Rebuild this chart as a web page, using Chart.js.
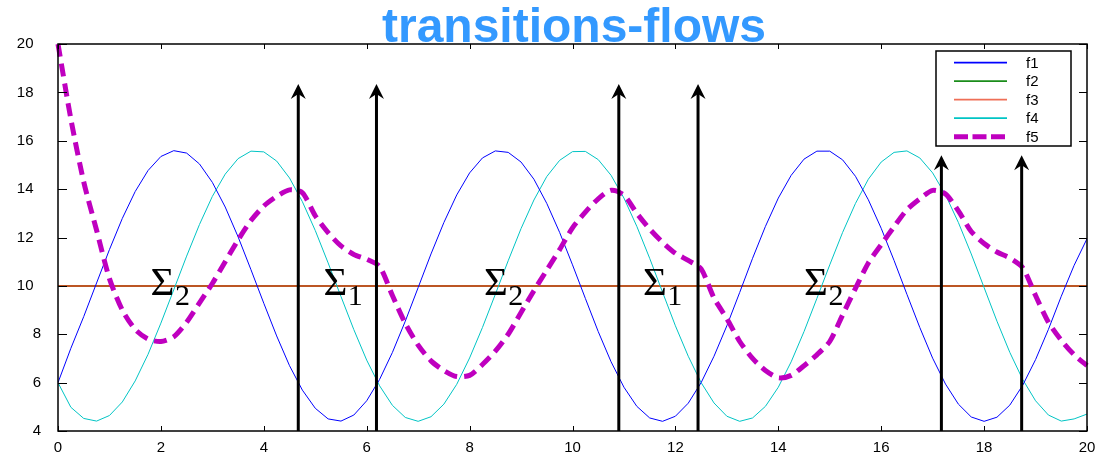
<!DOCTYPE html>
<html>
<head>
<meta charset="utf-8">
<script src="https://cdn.jsdelivr.net/npm/chart.js@4.4.0/dist/chart.umd.min.js"></script>
<style>
    html, body { margin: 0; padding: 0; background: #fff; }
    #caixa { width: 1095px; height: 454px; }
</style>
</head>
<body>
<div id="caixa"><canvas id="grafico" width="1095" height="454"></canvas></div>
<script>
// tempos de amostragem (passo 0.25)
const tempos = [
    0, 0.25, 0.5, 0.75, 1, 1.25, 1.5, 1.75, 2, 2.25, 2.5, 2.75, 3, 3.25, 3.5, 3.75,
    4, 4.25, 4.5, 4.75, 5, 5.25, 5.5, 5.75, 6, 6.25, 6.5, 6.75, 7, 7.25, 7.5, 7.75,
    8, 8.25, 8.5, 8.75, 9, 9.25, 9.5, 9.75, 10, 10.25, 10.5, 10.75, 11, 11.25, 11.5, 11.75,
    12, 12.25, 12.5, 12.75, 13, 13.25, 13.5, 13.75, 14, 14.25, 14.5, 14.75, 15, 15.25, 15.5, 15.75,
    16, 16.25, 16.5, 16.75, 17, 17.25, 17.5, 17.75, 18, 18.25, 18.5, 18.75, 19, 19.25, 19.5, 19.75, 20
]

const f1 = [
    6.00, 7.42, 8.73, 10.12, 11.50, 12.79, 13.90, 14.77, 15.35, 15.59, 15.49, 15.04, 14.28, 13.26, 12.03, 10.67,
    9.28, 7.93, 6.70, 5.69, 4.94, 4.50, 4.41, 4.66, 5.25, 6.13, 7.25, 8.54, 9.93, 11.32, 12.62, 13.76,
    14.67, 15.29, 15.58, 15.52, 15.12, 14.41, 13.41, 12.21, 10.87, 9.48, 8.11, 6.86, 5.81, 5.02, 4.54, 4.40,
    4.61, 5.15, 6.00, 7.09, 8.35, 9.73, 11.14, 12.46, 13.63, 14.57, 15.24, 15.57, 15.57, 15.21, 14.53, 13.56,
    12.38, 11.05, 9.65, 8.28, 7.01, 5.94, 5.11, 4.58, 4.40, 4.57, 5.07, 5.89, 6.95, 8.20, 9.57, 10.85, 11.95
]

const f4 = [
    6.00, 4.98, 4.52, 4.41, 4.64, 5.20, 6.07, 7.17, 8.46, 9.84, 11.23, 12.54, 13.70, 14.62, 15.26, 15.57,
    15.54, 15.16, 14.46, 13.48, 12.29, 10.95, 9.56, 8.19, 6.93, 5.87, 5.06, 4.56, 4.40, 4.59, 5.11, 5.93,
    7.02, 8.28, 9.65, 11.04, 12.37, 13.55, 14.52, 15.19, 15.55, 15.56, 15.22, 14.57, 13.63, 12.46, 11.14, 9.74,
    8.35, 7.09, 6.00, 5.16, 4.61, 4.40, 4.54, 5.02, 5.81, 6.86, 8.11, 9.48, 10.87, 12.21, 13.41, 14.41,
    15.12, 15.52, 15.58, 15.29, 14.67, 13.76, 12.62, 11.32, 9.93, 8.54, 7.25, 6.13, 5.25, 4.66, 4.41, 4.50, 4.70
]

const f5 = [
    20.0, 16.9, 14.3, 12.3, 10.3, 9.0, 8.2, 7.8, 7.7, 7.9, 8.5, 9.3, 10.1, 11.0, 11.9, 12.7,
    13.3, 13.7, 13.97, 13.85, 12.9, 12.2, 11.65, 11.3, 11.1, 10.8, 9.6, 8.45, 7.55, 6.9, 6.5, 6.25,
    6.3, 6.75, 7.3, 8.0, 8.9, 9.8, 10.65, 11.5, 12.4, 13.05, 13.6, 13.95, 13.75, 13.0, 12.35, 11.8,
    11.35, 11.05, 10.7, 9.5, 8.65, 7.7, 7.0, 6.5, 6.2, 6.3, 6.7, 7.15, 7.7, 8.8, 9.9, 10.95,
    11.7, 12.45, 13.15, 13.6, 13.95, 13.8, 13.1, 12.25, 11.75, 11.4, 11.15, 10.75, 9.6, 8.5, 7.75, 7.15, 6.7
]

// f2 e f3 sao constantes
const tempos_reta = [0, 20]
const f2 = [10, 10]
const f3 = [10, 10]

// setas verticais (transicoes)
const setas_x = [4.67, 6.19, 10.9, 12.44, 17.17, 18.73]
const setas_topo = [18.35, 18.35, 18.35, 18.35, 15.4, 15.4]

// etiquetas sigma
const sigma_x = [1.8, 5.16, 8.28, 11.37, 14.5]
const sigma_indice = ["2", "1", "2", "1", "2"]
const sigma_y = 9.62

const ticks_x = [0, 2, 4, 6, 8, 10, 12, 14, 16, 18, 20]
const ticks_y = [4, 6, 8, 10, 12, 14, 16, 18, 20]

function pontos(xs, ys) {
    return xs.map((x, i) => ({ x: x, y: ys[i] }))
}

const fonte = '"Liberation Sans", Arial, sans-serif'

// tira o espaco extra que o Chart.js reserva para as etiquetas das pontas
function sem_folga(s) {
    s.paddingLeft = 0
    s.paddingRight = 0
    s.paddingTop = 0
    s.paddingBottom = 0
}

const decoracao = {
    id: "decoracao",
    afterDatasetsDraw(chart) {
        const ctx = chart.ctx
        const sx = chart.scales.x
        const sy = chart.scales.y
        ctx.save()
        // setas
        ctx.strokeStyle = "#000"
        ctx.fillStyle = "#000"
        ctx.lineWidth = 3
        setas_x.forEach((v, i) => {
            const px = sx.getPixelForValue(v)
            const base = sy.getPixelForValue(4)
            const topo = sy.getPixelForValue(setas_topo[i])
            ctx.beginPath()
            ctx.moveTo(px, base)
            ctx.lineTo(px, topo + 8)
            ctx.stroke()
            ctx.beginPath()
            ctx.moveTo(px, topo)
            ctx.lineTo(px - 7.5, topo + 15)
            ctx.lineTo(px, topo + 10)
            ctx.lineTo(px + 7.5, topo + 15)
            ctx.closePath()
            ctx.fill()
        })
        // sigmas
        ctx.textAlign = "left"
        ctx.textBaseline = "alphabetic"
        sigma_x.forEach((v, i) => {
            const px = sx.getPixelForValue(v)
            const py = sy.getPixelForValue(sigma_y)
            ctx.font = '41px "Liberation Serif", "Times New Roman", serif'
            ctx.fillText("\u03A3", px, py)
            const w = ctx.measureText("\u03A3").width
            ctx.font = '30px "Liberation Serif", "Times New Roman", serif'
            ctx.fillText(sigma_indice[i], px + w + 0.5, py + 10)
        })
        ctx.restore()
    },
    afterDraw(chart) {
        const ctx = chart.ctx
        const a = chart.chartArea
        const sx = chart.scales.x
        const sy = chart.scales.y
        ctx.save()
        // moldura
        ctx.strokeStyle = "#000"
        ctx.lineWidth = 1.5
        ctx.strokeRect(a.left, a.top, a.right - a.left, a.bottom - a.top)
        // marcas para dentro
        ctx.lineWidth = 1
        ticks_x.forEach(v => {
            const px = Math.round(sx.getPixelForValue(v)) + 0.5
            ctx.beginPath()
            ctx.moveTo(px, a.bottom)
            ctx.lineTo(px, a.bottom - 5)
            ctx.moveTo(px, a.top)
            ctx.lineTo(px, a.top + 5)
            ctx.stroke()
        })
        ticks_y.forEach(v => {
            const py = Math.round(sy.getPixelForValue(v)) + 0.5
            ctx.beginPath()
            ctx.moveTo(a.left, py)
            ctx.lineTo(a.left + 9, py)
            ctx.moveTo(a.right, py)
            ctx.lineTo(a.right - 8, py)
            ctx.stroke()
        })
        // legenda
        const lx = a.right - 151
        const ly = a.top + 7
        ctx.fillStyle = "#fff"
        ctx.fillRect(lx, ly, 135, 95)
        ctx.lineWidth = 1.5
        ctx.strokeRect(lx, ly, 135, 95)
        ctx.font = "15px " + fonte
        ctx.textBaseline = "middle"
        ctx.textAlign = "left"
        chart.data.datasets.forEach((ds, i) => {
            const y = ly + 11.7 + i * 18.5
            ctx.strokeStyle = ds.borderColor
            ctx.lineWidth = ds.label === "f5" ? 5 : 1.8
            ctx.setLineDash(ds.label === "f5" ? [14, 4.5] : [])
            ctx.beginPath()
            ctx.moveTo(lx + 18, y)
            ctx.lineTo(lx + 71, y)
            ctx.stroke()
            ctx.setLineDash([])
            ctx.fillStyle = "#000"
            ctx.fillText(ds.label, lx + 90, y + 1)
        })
        // titulo
        ctx.font = "bold 48px " + fonte
        ctx.fillStyle = "#3399ff"
        ctx.textAlign = "center"
        ctx.textBaseline = "alphabetic"
        ctx.fillText("transitions-flows", (a.left + a.right) / 2 + 1.5, 42)
        ctx.restore()
    }
}

const dados = {
    datasets: [
        { label: "f1", data: pontos(tempos, f1), borderColor: "#0000ff", borderWidth: 1, order: 2 },
        { label: "f2", data: pontos(tempos_reta, f2), borderColor: "#1a8c1a", borderWidth: 2, order: 4 },
        { label: "f3", data: pontos(tempos_reta, f3), borderColor: "rgba(235,70,40,0.78)", borderWidth: 2, order: 3 },
        { label: "f4", data: pontos(tempos, f4), borderColor: "#00c4c4", borderWidth: 1, order: 2 },
        {
            label: "f5", data: pontos(tempos, f5), borderColor: "#bf00bf", borderWidth: 5,
            borderDash: [13, 7], tension: 0.25, order: 0, clip: 3
        }
    ]
}

const config = {
    type: "line",
    data: dados,
    options: {
        responsive: false,
        animation: false,
        devicePixelRatio: 1,
        layout: { padding: { top: 44, right: 8, left: 0, bottom: 0 } },
        elements: { point: { radius: 0 }, line: { tension: 0, borderCapStyle: "butt" } },
        plugins: {
            legend: { display: false },
            title: { display: false },
            tooltip: { enabled: false }
        },
        scales: {
            x: {
                type: "linear",
                min: 0,
                max: 20,
                grid: { display: false, drawTicks: false },
                border: { display: false },
                ticks: { stepSize: 2, padding: 8, color: "#000", font: { family: fonte, size: 15 }, maxRotation: 0 },
                afterFit: s => { s.height = 23; sem_folga(s) }
            },
            y: {
                min: 4,
                max: 20,
                grid: { display: false, drawTicks: false },
                border: { display: false },
                ticks: {
                    stepSize: 2, padding: 17, color: "#000", font: { family: fonte, size: 15 },
                    callback: v => v >= 10 ? v + "\u2002" : "" + v
                },
                afterFit: s => { s.width = 58; sem_folga(s) }
            }
        }
    },
    plugins: [decoracao]
}

let grafico_actual = new Chart(document.getElementById("grafico"), config)
</script>
</body>
</html>
